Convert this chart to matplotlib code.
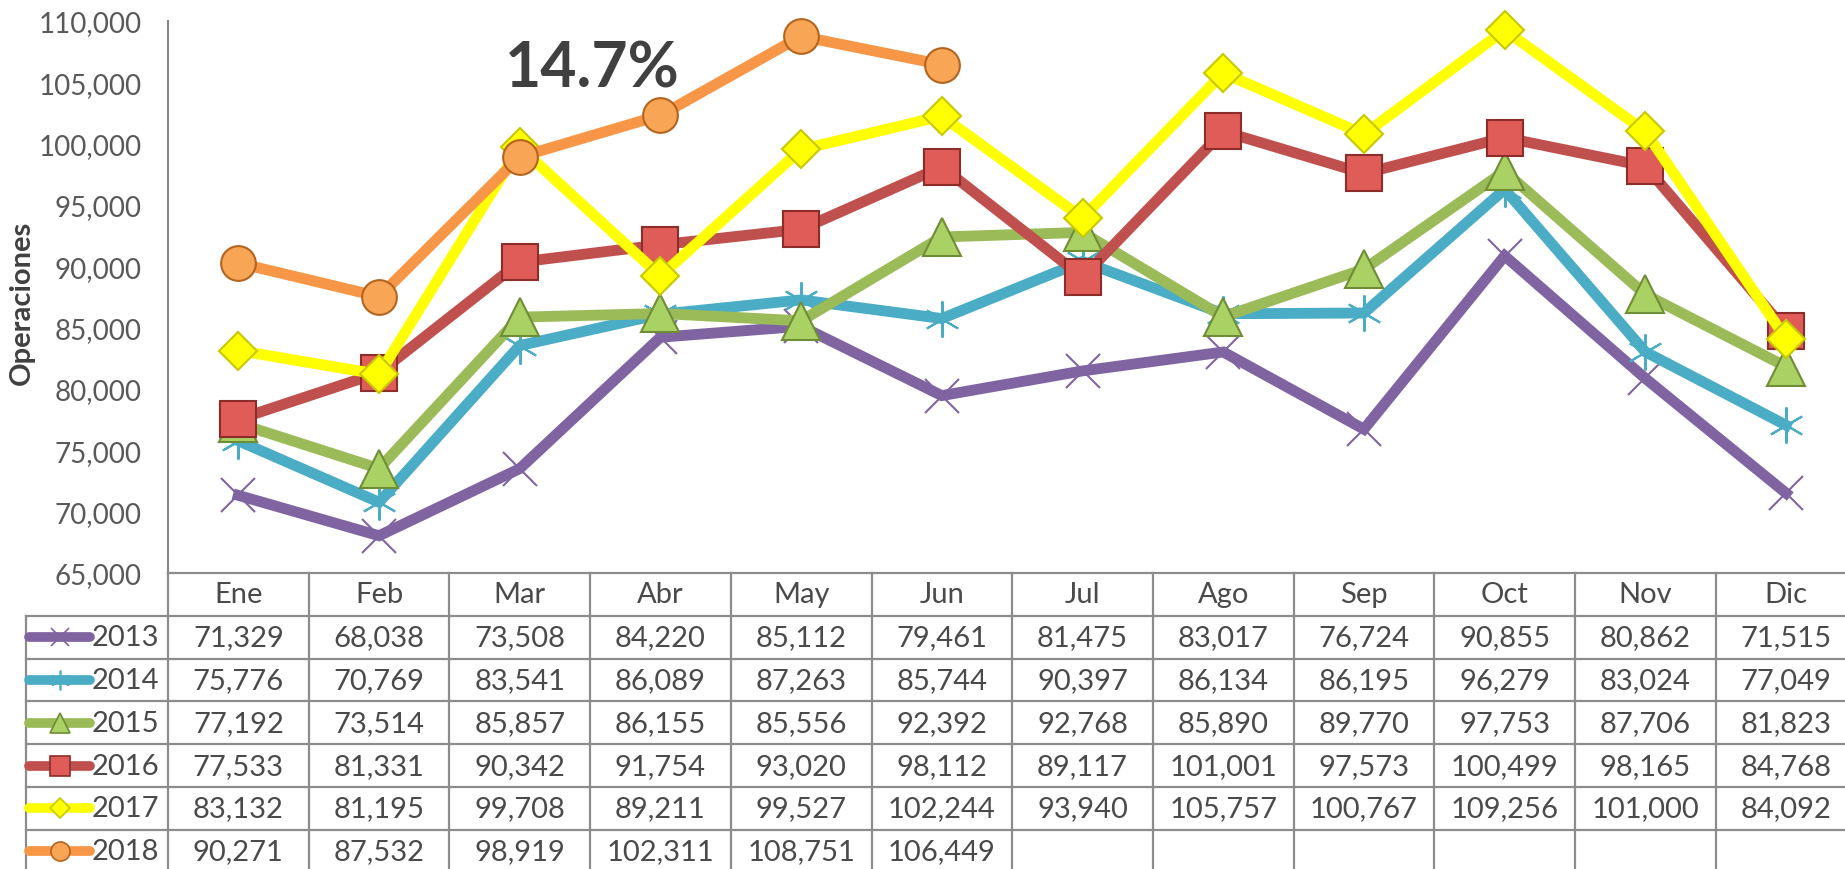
import matplotlib
matplotlib.use('Agg')
import matplotlib.pyplot as plt
from matplotlib.ticker import FuncFormatter

plt.rcParams['font.family'] = ['Lato', 'DejaVu Sans']

meses = ['Ene', 'Feb', 'Mar', 'Abr', 'May', 'Jun', 'Jul', 'Ago', 'Sep', 'Oct', 'Nov', 'Dic']
anios = ['2013', '2014', '2015', '2016', '2017', '2018']
v2013 = [71329, 68038, 73508, 84220, 85112, 79461, 81475, 83017, 76724, 90855, 80862, 71515]
v2014 = [75776, 70769, 83541, 86089, 87263, 85744, 90397, 86134, 86195, 96279, 83024, 77049]
v2015 = [77192, 73514, 85857, 86155, 85556, 92392, 92768, 85890, 89770, 97753, 87706, 81823]
v2016 = [77533, 81331, 90342, 91754, 93020, 98112, 89117, 101001, 97573, 100499, 98165, 84768]
v2017 = [83132, 81195, 99708, 89211, 99527, 102244, 93940, 105757, 100767, 109256, 101000, 84092]
v2018 = [90271, 87532, 98919, 102311, 108751, 106449]
series = [v2013, v2014, v2015, v2016, v2017, v2018]

# estilo de cada serie: color de linea, marcador, relleno, borde, tamaño
estilos = [
    dict(color='#8064A2', marker='x', mfc='#8064A2', mec='#8064A2', ms=24, mew=1.5),
    dict(color='#4BACC6', marker=(6, 2, 0), mfc='#4BACC6', mec='#4BACC6', ms=26, mew=1.5),
    dict(color='#9BBB59', marker='^', mfc='#A9D163', mec='#6F8C36', ms=27, mew=1.5),
    dict(color='#C0504D', marker='s', mfc='#E05C59', mec='#8C2D2A', ms=26, mew=1.5),
    dict(color='#FFFF00', marker='D', mfc='#FFFF00', mec='#C8C800', ms=19, mew=1.5),
    dict(color='#F79646', marker='o', mfc='#F9A556', mec='#B3641E', ms=25, mew=1.5),
]

W, H = 1845, 870
fig = plt.figure(figsize=(W / 100, H / 100), dpi=100)

col_w = 140.7
x0 = 168
y_top, y_bot = 22, 574
ax = fig.add_axes([x0 / W, 1 - y_bot / H, 12 * col_w / W, (y_bot - y_top) / H])

x = list(range(12))
for i, (vals, st) in enumerate(zip(series, estilos)):
    ax.plot(x[:len(vals)], vals, color=st['color'], lw=7.8, solid_joinstyle='miter',
            marker=st['marker'], ms=st['ms'], mfc=st['mfc'], mec=st['mec'], mew=st['mew'],
            zorder=3 + i, clip_on=False)

ax.set_xlim(-0.5, 11.5)
ax.set_ylim(65000, 110000)
ax.set_yticks(range(65000, 110001, 5000))
ax.yaxis.set_major_formatter(FuncFormatter(lambda v, p: f'{int(v):,}'))
ax.set_xticks([])
ax.tick_params(axis='y', length=0, pad=19, labelsize=20, labelcolor='#595959')
for s in ['top', 'right', 'bottom']:
    ax.spines[s].set_visible(False)
ax.spines['left'].set_color('#868686')
ax.spines['left'].set_linewidth(1.5)

fig.text(22 / W, 1 - 303 / H, 'Operaciones', rotation=90, ha='center', va='center',
         fontsize=21, fontweight='bold', color='#404040')
fig.text(592 / W, 1 - 69 / H, '14.7%', ha='center', va='center',
         fontsize=45, fontweight='bold', color='#404040')

# tabla de datos
row_h = 42.8
nrows = 7
tab = fig.add_axes([x0 / W, 1 - (y_bot + nrows * row_h) / H, 12 * col_w / W, nrows * row_h / H])
tab.set_xlim(-0.5, 11.5)
tab.set_ylim(nrows, 0)
tab.axis('off')

L = (x0 - 26) / col_w
gc = '#8C8C8C'
glw = 1.6
tab.plot([-0.5, 11.5], [0, 0], color=gc, lw=glw, clip_on=False)
for r in range(1, nrows + 1):
    tab.plot([-0.5 - L, 11.5], [r, r], color=gc, lw=glw, clip_on=False)
for k in range(13):
    tab.plot([-0.5 + k, -0.5 + k], [0, nrows], color=gc, lw=glw, clip_on=False)
tab.plot([-0.5 - L, -0.5 - L], [1, nrows], color=gc, lw=glw, clip_on=False)

tc = '#4A4A4A'
for i, m in enumerate(meses):
    tab.text(i, 0.5, m, ha='center', va='center', fontsize=21, color=tc)

for r, (anio, vals, st) in enumerate(zip(anios, series, estilos)):
    yc = r + 1.5
    for i, v in enumerate(vals):
        tab.text(i, yc, f'{v:,}', ha='center', va='center', fontsize=21, color=tc)
    xs = -0.5 - L + 3 / col_w
    xe = -0.5 - L + 64 / col_w
    tab.plot([xs, xe], [yc, yc], color=st['color'], lw=7, solid_capstyle='round', clip_on=False)
    tab.plot([(xs + xe) / 2], [yc], marker=st['marker'], ms=st['ms'] * 0.55, mfc=st['mfc'],
             mec=st['mec'], mew=1.2, clip_on=False)
    tab.text(-0.5 - L + 66 / col_w, yc, anio, ha='left', va='center', fontsize=21, color=tc)

fig.savefig('out.png', dpi=100)
